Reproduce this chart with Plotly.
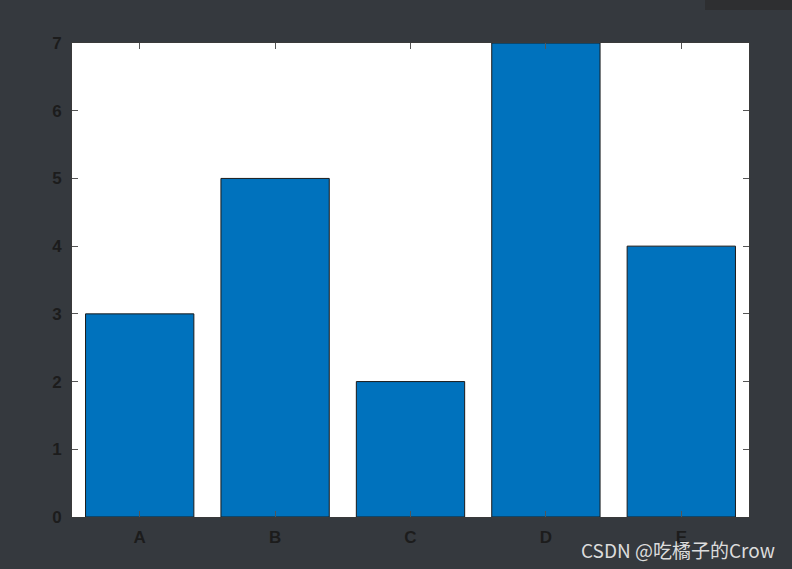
import plotly.graph_objects as go

categories = ["A", "B", "C", "D", "E"]
values = [3, 5, 2, 7, 4]
y_ticks = [0, 1, 2, 3, 4, 5, 6, 7]

bg = "rgb(53,57,62)"
fig = go.Figure(go.Bar(
    x=categories, y=values, width=0.8,
    marker=dict(color="#0072BD", line=dict(color="#1a1a1a", width=1)),
))

axis_common = dict(showline=True, mirror="ticks", linecolor="#3a3a3a", linewidth=1,
                   ticks="inside", ticklen=6, tickcolor="#555555", tickwidth=1,
                   showgrid=False, zeroline=False,
                   tickfont=dict(family="Liberation Sans, Arial", size=17, color="#1c1c1c",
                                 weight="bold"))

fig.update_layout(
    width=792, height=569,
    margin=dict(l=72, r=43, t=43, b=52),
    paper_bgcolor=bg, plot_bgcolor="white",
    showlegend=False,
    xaxis=dict(range=[-0.5, 4.5], ticklabelstandoff=5, **axis_common),
    yaxis=dict(range=[0, 7], tickvals=y_ticks, ticklabelstandoff=6, **axis_common),
    shapes=[dict(type="rect", xref="paper", yref="paper",
                 x0=(705 - 72) / 677, x1=(792 - 72) / 677,
                 y0=1 + (43 - 10) / 474, y1=1 + 43 / 474,
                 fillcolor="rgb(46,47,49)", line=dict(width=0), layer="below")],
    annotations=[dict(text="CSDN @吃橘子的Crow", xref="paper", yref="paper",
                      x=(777 - 72) / 677, y=-(549 - 517) / 474, xanchor="right", yanchor="middle",
                      showarrow=False,
                      font=dict(family="Noto Sans CJK SC, Liberation Sans", size=19, color="#dcdcdc"))],
)

fig.write_html("out.html", config={"displayModeBar": False},
               post_script="document.body.style.margin='0';document.body.style.background='rgb(53,57,62)';")
